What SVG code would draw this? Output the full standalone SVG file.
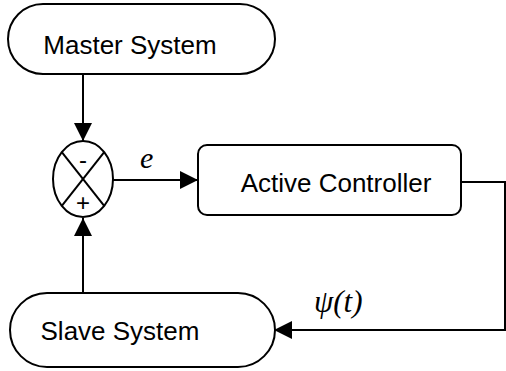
<svg xmlns="http://www.w3.org/2000/svg" width="506" height="371" viewBox="0 0 506 371">
  <style>
    .shape { fill: #ffffff; stroke: #000000; stroke-width: 2; }
    .wire { fill: none; stroke: #000000; stroke-width: 2; }
    .label { font-family: "Liberation Sans", Arial, sans-serif; font-size: 26px; fill: #000000; text-anchor: middle; }
    .math { font-family: "Liberation Serif", "Times New Roman", serif; font-style: italic; fill: #000000; }
    .sign { font-family: "Liberation Sans", Arial, sans-serif; font-size: 24px; fill: #000000; text-anchor: middle; }
  </style>
  <defs>
    <marker id="arrow" viewBox="0 0 18 18" refX="18" refY="9" markerWidth="18" markerHeight="18" markerUnits="userSpaceOnUse" orient="auto">
      <path d="M0,0 L18,9 L0,18 Z" fill="#000000"/>
    </marker>
  </defs>

  <g id="connectors">
    <!-- master output to summing junction -->
    <line class="wire" x1="83" y1="74" x2="83" y2="141" marker-end="url(#arrow)"/>
    <!-- error signal to controller -->
    <line class="wire" x1="113" y1="180" x2="198" y2="180" marker-end="url(#arrow)"/>
    <!-- control signal back to slave -->
    <polyline class="wire" points="461,182 505,182 505,330 274,330" marker-end="url(#arrow)"/>
    <!-- slave output to summing junction -->
    <line class="wire" x1="83" y1="293" x2="83" y2="218" marker-end="url(#arrow)"/>
    <text class="math" x="140" y="168" font-size="30">e</text>
    <text class="math" x="314" y="312" font-size="31">ψ(t)</text>
  </g>

  <g id="master">
    <rect class="shape" x="8" y="4" width="267" height="70" rx="35" ry="35"/>
    <text class="label" x="130" y="54">Master System</text>
  </g>

  <g id="sum">
    <ellipse class="shape" cx="83" cy="179" rx="30" ry="38"/>
    <line class="wire" x1="61.8" y1="152.1" x2="104.2" y2="205.9"/>
    <line class="wire" x1="104.2" y1="152.1" x2="61.8" y2="205.9"/>
    <text class="sign" x="83" y="168">-</text>
    <text class="sign" x="83" y="211">+</text>
  </g>

  <g id="controller">
    <rect class="shape" x="198" y="145" width="263" height="70" rx="9" ry="9"/>
    <text class="label" x="336" y="192">Active Controller</text>
  </g>

  <g id="slave">
    <rect class="shape" x="10" y="293" width="265" height="74" rx="37" ry="37"/>
    <text class="label" x="120" y="340">Slave System</text>
  </g>
</svg>
